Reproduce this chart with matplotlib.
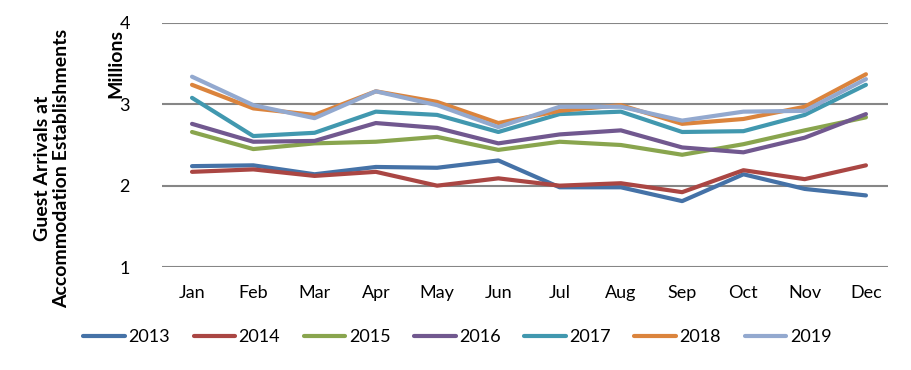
import matplotlib.pyplot as plt

months = ["Jan", "Feb", "Mar", "Apr", "May", "Jun", "Jul", "Aug", "Sep", "Oct", "Nov", "Dec"]
years = ["2013", "2014", "2015", "2016", "2017", "2018", "2019"]

# guest arrivals, millions
y2013 = [2.24, 2.25, 2.14, 2.23, 2.22, 2.31, 1.98, 1.98, 1.81, 2.14, 1.96, 1.88]
y2014 = [2.17, 2.20, 2.12, 2.17, 2.00, 2.09, 2.00, 2.03, 1.92, 2.19, 2.08, 2.25]
y2015 = [2.66, 2.45, 2.52, 2.54, 2.60, 2.44, 2.54, 2.50, 2.38, 2.51, 2.68, 2.84]
y2016 = [2.76, 2.54, 2.55, 2.77, 2.71, 2.52, 2.63, 2.68, 2.47, 2.41, 2.59, 2.88]
y2017 = [3.08, 2.61, 2.65, 2.91, 2.87, 2.66, 2.88, 2.91, 2.66, 2.67, 2.87, 3.24]
y2018 = [3.24, 2.95, 2.87, 3.16, 3.03, 2.77, 2.92, 2.99, 2.76, 2.82, 2.97, 3.37]
y2019 = [3.34, 2.99, 2.83, 3.16, 2.99, 2.72, 2.97, 2.97, 2.80, 2.91, 2.92, 3.31]

series = [y2013, y2014, y2015, y2016, y2017, y2018, y2019]
colors = ["#4572A7", "#AA4643", "#89A54E", "#71588F", "#4198AF", "#DB843D", "#93A9CF"]

plt.rcParams["font.family"] = ["Lato", "DejaVu Sans"]

fig = plt.figure(figsize=(9.11, 3.70), dpi=100)
ax = fig.add_axes([162 / 911, 1 - 267 / 370, (888 - 162) / 911, (267 - 23) / 370])

x = list(range(len(months)))
for yr, vals, c in zip(years, series, colors):
    ax.plot(x, vals, color=c, linewidth=3, label=yr, solid_capstyle="round")

ax.set_xlim(-0.49, 11.36)
ax.set_ylim(1, 4)
ax.set_yticks([1, 2, 3, 4])
ax.set_xticks(x)
ax.set_xticklabels(months)
ax.grid(axis="y", color="#868686", linewidth=1.5)
ax.set_axisbelow(True)
for s in ax.spines.values():
    s.set_visible(False)
ax.tick_params(length=0, labelsize=13)
ax.tick_params(axis="x", pad=13)
ax.tick_params(axis="y", pad=23)

fig.text(116 / 911, 1 - 64 / 370, "Millions", rotation=90, ha="center", va="center",
         fontsize=14, fontweight="bold")
fig.text(52 / 911, 1 - 168 / 370, "Guest Arrivals at\nAccommodation Establishments", rotation=90,
         ha="center", va="center", fontsize=14, fontweight="bold", linespacing=1.1)

fig.legend(loc="center", bbox_to_anchor=(0.502, 1 - 337 / 370), ncol=7, frameon=False,
           fontsize=13, handlelength=2.3, handletextpad=0.2, columnspacing=1.3)

fig.savefig("out.png", dpi=100)
